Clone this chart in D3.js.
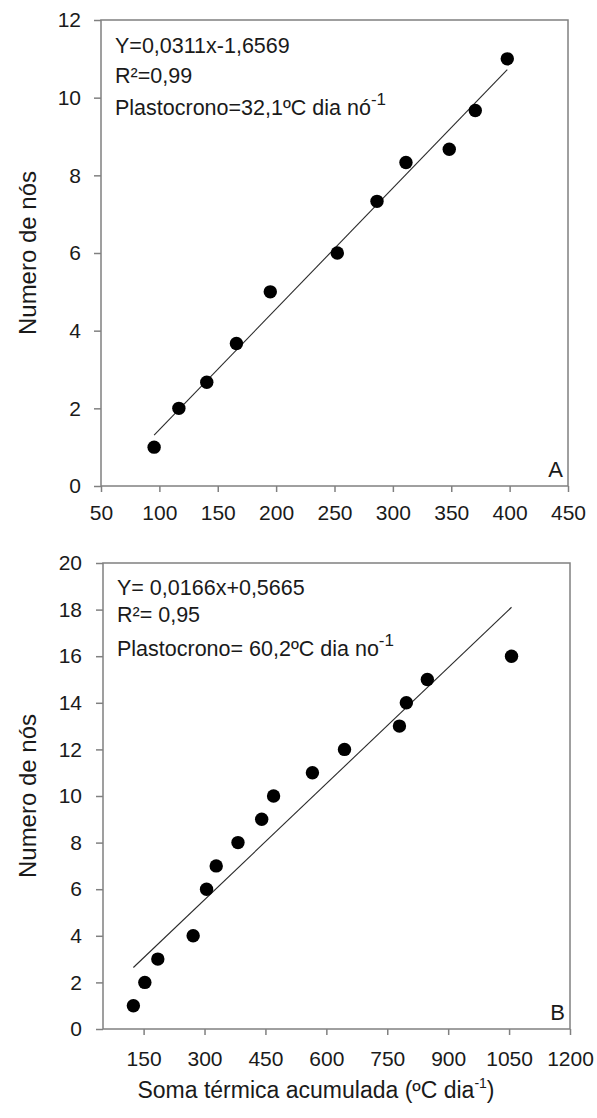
<!DOCTYPE html>
<html>
<head>
<meta charset="utf-8">
<script src="https://cdn.jsdelivr.net/npm/d3@7"></script>
<style>
  html, body { margin: 0; padding: 0; background: #fff; }
  svg { display: block; font-family: "Liberation Sans", Arial, sans-serif; }
</style>
</head>
<body>
<div id="chart"></div>
<script>
// Painel A
const somaA = [95.5, 116.7, 140.6, 166, 195, 252.4, 286.4, 311.2, 348.3, 370.6, 398];
const nosA = [1, 2, 2.67, 3.67, 5, 6, 7.33, 8.33, 8.67, 9.67, 11];
const fitA = [[95.5, 1.31], [398, 10.72]];
const xTicksA = [50, 100, 150, 200, 250, 300, 350, 400, 450];
const yTicksA = [0, 2, 4, 6, 8, 10, 12];
const textA = ["Y=0,0311x-1,6569", "R²=0,99", "Plastocrono=32,1ºC dia nó"];

// Painel B
const somaB = [124.8, 153, 185, 272, 305, 328.8, 382.4, 440.8, 470, 565.7, 644.7, 780, 797, 848.7, 1056];
const nosB = [1, 2, 3, 4, 6, 7, 8, 9, 10, 11, 12, 13, 14, 15, 16];
const fitB = [[124.8, 2.64], [1056, 18.1]];
const xTicksB = [150, 300, 450, 600, 750, 900, 1050, 1200];
const yTicksB = [0, 2, 4, 6, 8, 10, 12, 14, 16, 18, 20];
const textB = ["Y= 0,0166x+0,5665", "R²= 0,95", "Plastocrono= 60,2ºC dia no"];

const W = 597, H = 1118;
const axisColor = "#808080";
const inkColor = "#1a1a1a";

const svg = d3.select("#chart").append("svg")
  .attr("width", W)
  .attr("height", H);

const drawPanel = (p) => {
  const x = d3.scaleLinear().domain(p.xDomain).range([p.left, p.right]);
  const y = d3.scaleLinear().domain(p.yDomain).range([p.bottom, p.top]);
  const g = svg.append("g");

  // eixos
  const xAxis = g.append("g")
    .attr("transform", `translate(0,${p.bottom})`)
    .call(d3.axisBottom(x).tickValues(p.xTicks).tickFormat(d3.format("d"))
      .tickSize(6).tickSizeOuter(0).tickPadding(p.xPad));
  const yAxis = g.append("g")
    .attr("transform", `translate(${p.left},0)`)
    .call(d3.axisLeft(y).tickValues(p.yTicks).tickFormat(d3.format("d"))
      .tickSize(7).tickSizeOuter(0).tickPadding(p.yPad));

  [xAxis, yAxis].forEach(a => {
    a.select(".domain").remove();
    a.selectAll(".tick line").attr("stroke", axisColor).attr("stroke-width", 1.5);
    a.selectAll(".tick text")
      .attr("fill", inkColor)
      .style("font-size", "21px");
  });

  // moldura
  g.append("rect")
    .attr("x", x(p.xDomain[0]))
    .attr("y", y(p.yDomain[1]))
    .attr("width", x(p.xDomain[1]) - x(p.xDomain[0]))
    .attr("height", y(p.yDomain[0]) - y(p.yDomain[1]))
    .attr("fill", "none")
    .attr("stroke", axisColor)
    .attr("stroke-width", 1.5);

  // reta de regressão
  g.append("path")
    .datum(p.fit)
    .attr("d", d3.line().x(d => x(d[0])).y(d => y(d[1])))
    .attr("fill", "none")
    .attr("stroke", "#2a2a2a")
    .attr("stroke-width", 1.1);

  // pontos
  g.append("g")
    .selectAll("circle")
    .data(p.xs.map((v, i) => [v, p.ys[i]]))
    .join("circle")
    .attr("cx", d => x(d[0]))
    .attr("cy", d => y(d[1]))
    .attr("r", 6.7)
    .attr("fill", "#000");

  // texto da equação
  const t = g.append("text")
    .attr("fill", inkColor)
    .style("font-size", "21.5px");
  p.text.forEach((s, i) => {
    t.append("tspan")
      .attr("x", p.left + 14)
      .attr("y", p.textY[i])
      .text(s);
    if (i === 2) {
      t.append("tspan")
        .attr("dy", -10)
        .style("font-size", "17px")
        .text("-1");
    }
  });

  // letra do painel
  g.append("text")
    .attr("x", p.right - 5)
    .attr("y", p.bottom - 9)
    .attr("text-anchor", "end")
    .attr("fill", inkColor)
    .style("font-size", "22px")
    .text(p.letter);

  // título do eixo y
  g.append("text")
    .attr("transform", `translate(36,${(p.top + p.bottom) / 2}) rotate(-90)`)
    .attr("text-anchor", "middle")
    .attr("fill", inkColor)
    .style("font-size", "24px")
    .text("Numero de nós");
};

drawPanel({
  xs: somaA, ys: nosA, fit: fitA, text: textA, letter: "A",
  xDomain: [50, 450], yDomain: [0, 12],
  xTicks: xTicksA, yTicks: yTicksA,
  left: 101, right: 568, top: 20, bottom: 486,
  xPad: 13, yPad: 13,
  textY: [53, 83, 115]
});

drawPanel({
  xs: somaB, ys: nosB, fit: fitB, text: textB, letter: "B",
  xDomain: [50, 1200], yDomain: [0, 20],
  xTicks: xTicksB, yTicks: yTicksB,
  left: 103, right: 570, top: 563, bottom: 1029,
  xPad: 16, yPad: 14,
  textY: [594.5, 622, 656]
});

// título do eixo x
const xt = svg.append("text")
  .attr("x", 316)
  .attr("y", 1098)
  .attr("text-anchor", "middle")
  .attr("fill", inkColor)
  .style("font-size", "23px");
xt.append("tspan").text("Soma térmica acumulada (ºC dia");
xt.append("tspan").attr("dy", -10).style("font-size", "14px").text("-1");
xt.append("tspan").attr("dy", 10).text(")");
</script>
</body>
</html>
